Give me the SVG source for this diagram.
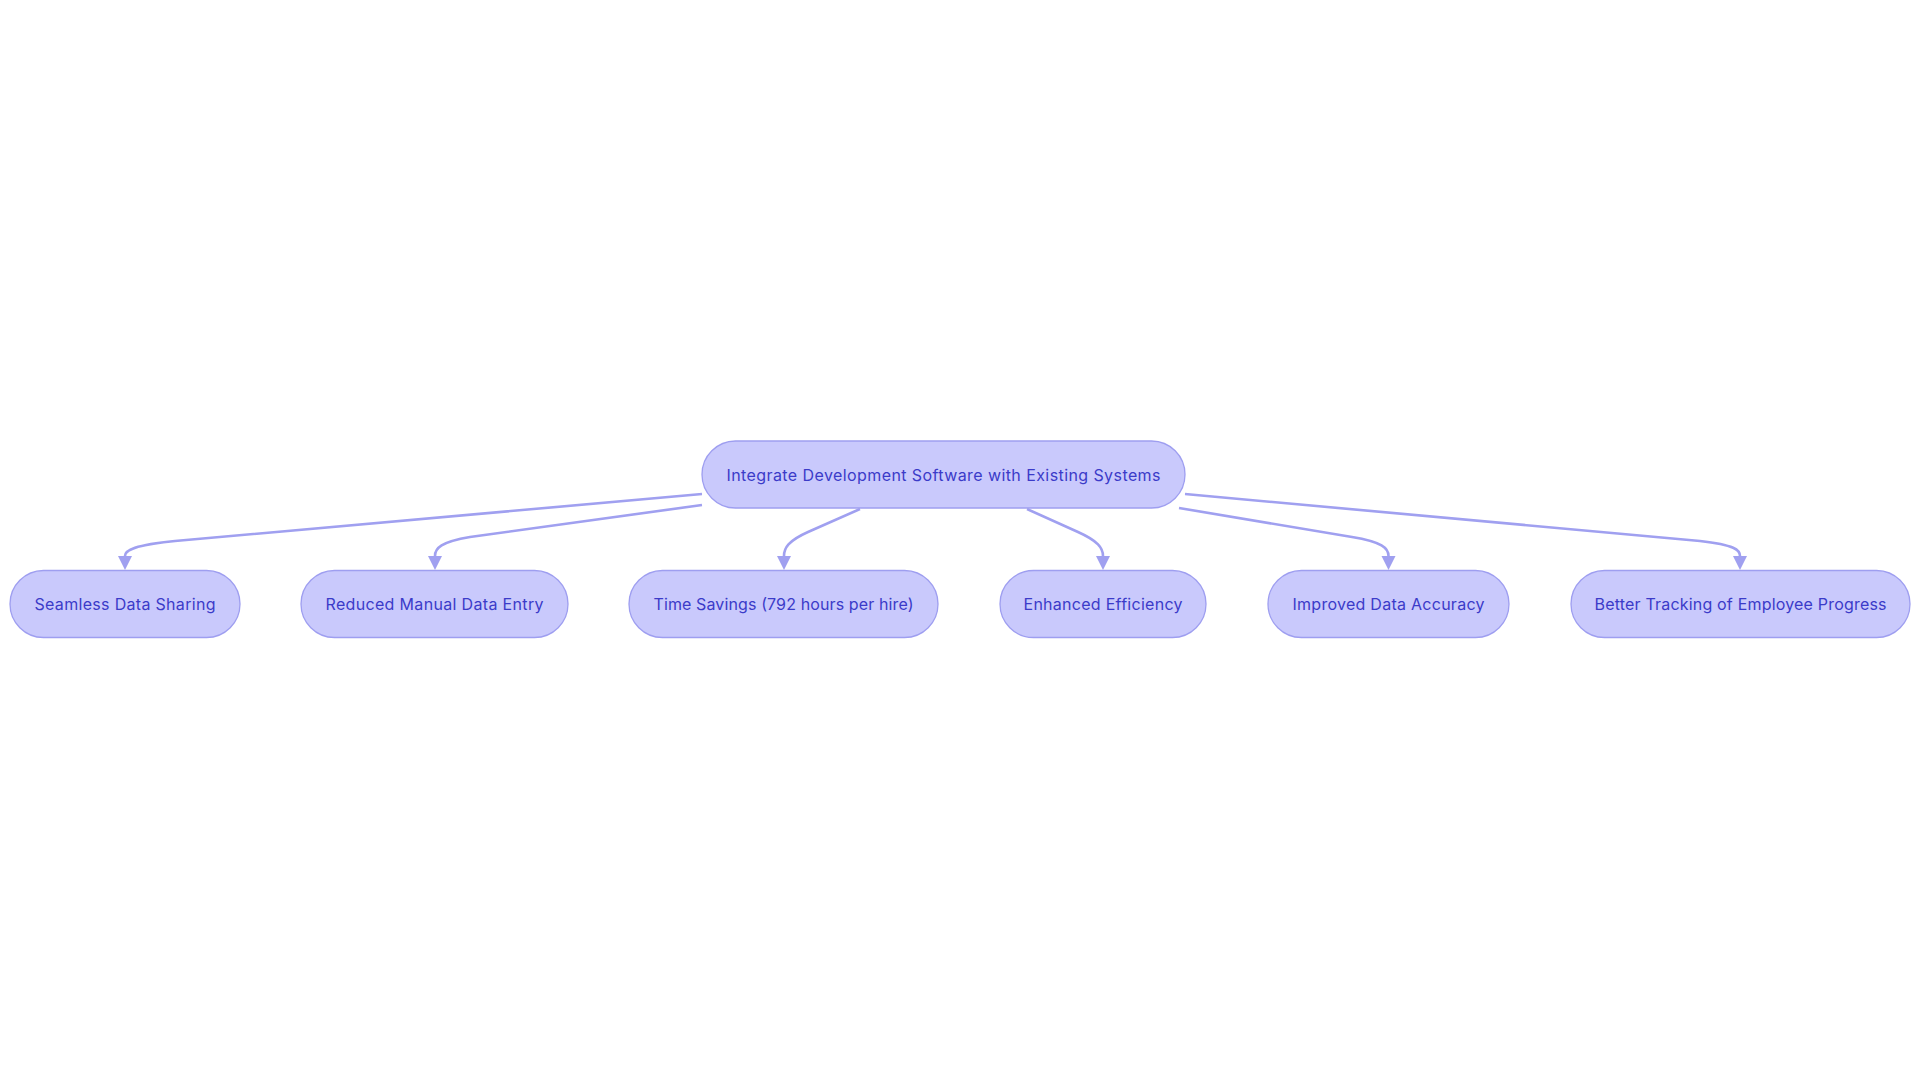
<svg xmlns="http://www.w3.org/2000/svg" width="1920" height="1083" viewBox="0 0 1920 1083">
<style>
.node rect{fill:#c9c9fc;stroke:#9e9ef0;stroke-width:1.3}
.node text{font-family:Inter,"Open Sans","Liberation Sans",sans-serif;font-size:16px;fill:#3b3bc9;text-anchor:middle;dominant-baseline:central}
.edge{fill:none;stroke:#a0a0f0;stroke-width:2.6}
</style>
<defs>
<marker id="arrow" markerUnits="userSpaceOnUse" markerWidth="15" markerHeight="15" refX="0" refY="7" orient="auto">
<path d="M0,0 L14,7 L0,14 z" fill="#a0a0f0"/>
</marker>
</defs>
<rect width="1920" height="1083" fill="#ffffff"/>
<g id="connectors">
<path class="edge" marker-end="url(#arrow)" d="M702,494 L175,541 C135,545 125,550 125,556"/>
<path class="edge" marker-end="url(#arrow)" d="M702,505 L470,537 C441,542 435,548 435,556"/>
<path class="edge" marker-end="url(#arrow)" d="M860,509 L808,532 C788,541 784,548 784,556"/>
<path class="edge" marker-end="url(#arrow)" d="M1027,509 L1078,532 C1098,541 1103,548 1103,556"/>
<path class="edge" marker-end="url(#arrow)" d="M1179,508 L1352,537 C1382,542 1388.5,548 1388.5,556"/>
<path class="edge" marker-end="url(#arrow)" d="M1185,494 L1700,541 C1735,545 1740,550 1740,556"/>
</g>
<g id="root" class="node">
<rect x="702" y="441" width="483" height="67" rx="33.5"/>
<text x="943.5" y="474.5" textLength="434">Integrate Development Software with Existing Systems</text>
</g>
<g id="n1" class="node">
<rect x="10" y="570.5" width="230" height="67" rx="33.5"/>
<text x="125" y="604" textLength="181">Seamless Data Sharing</text>
</g>
<g id="n2" class="node">
<rect x="301" y="570.5" width="267" height="67" rx="33.5"/>
<text x="434.5" y="604" textLength="218">Reduced Manual Data Entry</text>
</g>
<g id="n3" class="node">
<rect x="629" y="570.5" width="309" height="67" rx="33.5"/>
<text x="783.5" y="604" textLength="260">Time Savings (792 hours per hire)</text>
</g>
<g id="n4" class="node">
<rect x="1000" y="570.5" width="206" height="67" rx="33.5"/>
<text x="1103" y="604" textLength="159">Enhanced Efficiency</text>
</g>
<g id="n5" class="node">
<rect x="1268" y="570.5" width="241" height="67" rx="33.5"/>
<text x="1388.5" y="604" textLength="192">Improved Data Accuracy</text>
</g>
<g id="n6" class="node">
<rect x="1571" y="570.5" width="339" height="67" rx="33.5"/>
<text x="1740.5" y="604" textLength="292">Better Tracking of Employee Progress</text>
</g>
</svg>
